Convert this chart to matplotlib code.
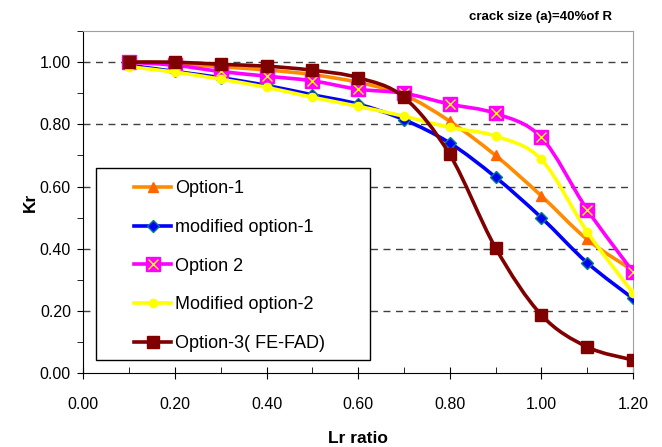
import matplotlib
matplotlib.use("Agg")
import matplotlib.pyplot as plt
import numpy as np
from matplotlib.path import Path
from matplotlib.patches import PathPatch, Rectangle
from matplotlib.lines import Line2D
from matplotlib.ticker import MultipleLocator, FormatStrFormatter

plt.rcParams["font.family"] = ["Liberation Sans", "DejaVu Sans"]

lr = [0.1, 0.2, 0.3, 0.4, 0.5, 0.6, 0.7, 0.8, 0.9, 1.0, 1.1, 1.2]
option1 = [1.00, 0.995, 0.985, 0.975, 0.96, 0.935, 0.895, 0.81, 0.70, 0.57, 0.43, 0.33]
mod_option1 = [0.99, 0.97, 0.95, 0.925, 0.895, 0.865, 0.815, 0.74, 0.63, 0.50, 0.355, 0.24]
option2 = [1.00, 0.99, 0.97, 0.955, 0.94, 0.913, 0.90, 0.865, 0.835, 0.758, 0.526, 0.326]
mod_option2 = [0.985, 0.968, 0.945, 0.919, 0.887, 0.858, 0.826, 0.79, 0.762, 0.687, 0.455, 0.258]
option3 = [1.00, 1.00, 0.993, 0.987, 0.974, 0.95, 0.887, 0.703, 0.403, 0.187, 0.084, 0.042]
labels = ["Option-1", "modified option-1", "Option 2", "Modified option-2", "Option-3( FE-FAD)"]


def smooth_path(x, y):
    # Catmull-Rom through the points, as cubic Bezier segments
    p = np.column_stack([x, y])
    verts = [p[0]]
    codes = [Path.MOVETO]
    n = len(p)
    for i in range(n - 1):
        p0 = p[i - 1] if i > 0 else p[i]
        p3 = p[i + 2] if i + 2 < n else p[i + 1]
        c1 = p[i] + (p[i + 1] - p0) / 6
        c2 = p[i + 1] - (p3 - p[i]) / 6
        verts += [c1, c2, p[i + 1]]
        codes += [Path.CURVE4] * 3
    return Path(verts, codes)


fig = plt.figure(figsize=(6.62, 4.47), dpi=100)
ax = fig.add_axes([0.126, 0.1655, 0.830, 0.765])

styles = [
    dict(color="#FF8C00", marker="^", mfc="#FF6600", mec="#FF6600", ms=7),
    dict(color="#0000FF", marker="D", mfc="#0000FF", mec="#008080", ms=6),
    dict(color="#FF00FF", marker="s", mfc="#FF00FF", mec="#FF00FF", ms=10),
    dict(color="#FFFF00", marker="o", mfc="#FFFF00", mec="#FFFF00", ms=6),
    dict(color="#800000", marker="s", mfc="#800000", mec="#800000", ms=8.5),
]
series = [option1, mod_option1, option2, mod_option2, option3]
handles = []
for k, (vals, st) in enumerate(zip(series, styles)):
    z = 3 + k
    ax.add_patch(PathPatch(smooth_path(lr, vals), fill=False, edgecolor=st["color"],
                           lw=2.6, zorder=z, capstyle="round", joinstyle="round"))
    ax.plot(lr, vals, linestyle="none", marker=st["marker"], ms=st["ms"],
            mfc=st["mfc"], mec=st["mec"], mew=1, zorder=z)
    h = Line2D([], [], color=st["color"], lw=2.6, marker=st["marker"], ms=st["ms"],
               mfc=st["mfc"], mec=st["mec"])
    if k == 2:
        ax.plot(lr, vals, linestyle="none", marker="x", ms=7, mec="#FFFF00", mew=1, zorder=z)
        hx = Line2D([], [], linestyle="none", marker="x", ms=7, mec="#FFFF00", mew=1)
        h = (h, hx)
    handles.append(h)

ax.set_xlim(0, 1.2)
ax.set_ylim(0, 1.1)
ax.xaxis.set_major_locator(MultipleLocator(0.2))
ax.xaxis.set_minor_locator(MultipleLocator(0.1))
ax.yaxis.set_major_locator(MultipleLocator(0.2))
ax.yaxis.set_minor_locator(MultipleLocator(0.1))
ax.xaxis.set_major_formatter(FormatStrFormatter("%.2f"))
ax.yaxis.set_major_formatter(FormatStrFormatter("%.2f"))
ax.tick_params(axis="x", which="major", direction="inout", length=8, labelsize=11.5, pad=13)
ax.tick_params(axis="x", which="minor", direction="in", length=4)
ax.tick_params(axis="y", which="both", direction="out", length=4, labelsize=11.5, pad=5)

for yv in np.arange(0.2, 1.01, 0.2):
    ax.axhline(yv, color="#404040", lw=1, ls=(0, (5, 4)), zorder=1)

for s in ["top", "right"]:
    ax.spines[s].set_color("#a0a0a0")
ax.spines["left"].set_color("black")
ax.spines["bottom"].set_color("black")

ax.set_xlabel("Lr ratio", fontsize=12.5, fontweight="bold", labelpad=14)
ax.set_ylabel("Kr", fontsize=12.5, fontweight="bold", labelpad=1)
fig.text(0.925, 0.962, "crack size (a)=40%of R", ha="right", va="center",
         fontsize=9.5, fontweight="bold")

ax.add_patch(Rectangle((0.022, 0.037), 0.5, 0.563, transform=ax.transAxes,
                       facecolor="white", edgecolor="black", lw=1, zorder=10))
leg = ax.legend(handles, labels, loc="upper left", bbox_to_anchor=(0.079, 0.585),
                frameon=False, fontsize=13, labelspacing=1.2, handlelength=2.05,
                handletextpad=0.22, borderaxespad=0)
leg.set_zorder(11)

fig.savefig("out.png", dpi=100)
